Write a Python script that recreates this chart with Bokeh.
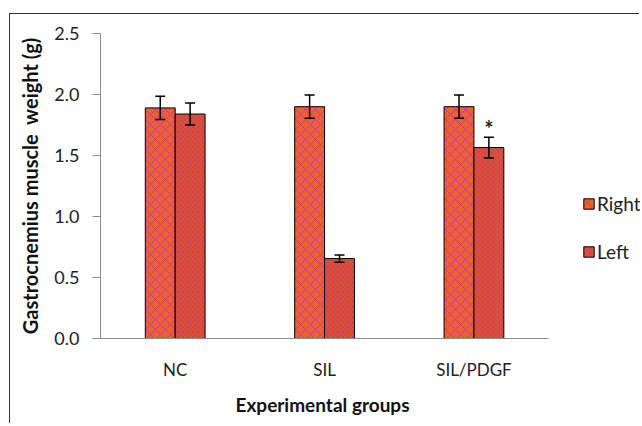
from bokeh.plotting import figure
from bokeh.models import (ColumnDataSource, Whisker, TeeHead, Legend, Title,
                          LegendItem, FixedTicker, NumeralTickFormatter, Range1d)
from bokeh.core.properties import value
from bokeh.embed import file_html
from bokeh.resources import INLINE

groups = ["NC", "SIL", "SIL/PDGF"]
right = [1.89, 1.90, 1.90]
right_err = [0.095, 0.095, 0.095]
left = [1.84, 0.655, 1.565]
left_err = [0.09, 0.03, 0.085]
marks = ["", "", "*"]
yticks = [0.0, 0.5, 1.0, 1.5, 2.0, 2.5]
series = ["Right", "Left"]
x_title = "Experimental groups"
y_title = "Gastrocnemius muscle \u00a0weight (g)"

FONT = "Lato"
BW = 0.2                      # bar width (in category units)
pos = [i + 0.5 for i in range(len(groups))]

src = ColumnDataSource(dict(
    xr=[x - BW / 2 for x in pos],
    xl=[x + BW / 2 for x in pos],
    right=right,
    left=left,
    r_up=[v + e for v, e in zip(right, right_err)],
    r_lo=[v - e for v, e in zip(right, right_err)],
    l_up=[v + e for v, e in zip(left, left_err)],
    l_lo=[v - e for v, e in zip(left, left_err)],
    mark=marks,
    mark_y=[v + e + 0.075 for v, e in zip(left, left_err)],
))

n = len(groups)
p = figure(x_range=Range1d(0, n * 1.205), y_range=Range1d(0, 2.5),
           width=630, height=410, output_backend="svg", toolbar_location=None,
           min_border_left=90, min_border_right=0, min_border_top=19,
           min_border_bottom=86)
p.styles = {"margin-left": "9px", "margin-top": "13px",
            "border-left": "1px solid #333", "border-top": "1px solid #333"}

RC = "#F0602A"
LC = "#E0502E"
HC = "#A8389A"

rr = p.vbar(x="xr", top="right", width=BW, source=src, fill_color=RC,
            line_color="black", line_width=1,
            hatch_pattern="diagonal_cross", hatch_scale=10, hatch_color=HC,
            hatch_weight=1, hatch_alpha=0.7)
lr = p.vbar(x="xl", top="left", width=BW, source=src, fill_color=LC,
            line_color="black", line_width=1,
            hatch_pattern="diagonal_cross", hatch_scale=5, hatch_color=HC,
            hatch_weight=1, hatch_alpha=0.5)

for base, up, lo in [("xr", "r_up", "r_lo"), ("xl", "l_up", "l_lo")]:
    w = Whisker(base=base, upper=up, lower=lo, source=src, level="overlay",
                line_color="black", line_width=1.5,
                upper_head=TeeHead(size=10, line_color="black", line_width=1.5),
                lower_head=TeeHead(size=10, line_color="black", line_width=1.5))
    p.add_layout(w)

p.text(x="xl", y="mark_y", text="mark", source=src,
       text_align="center", text_baseline="middle", text_font=value(FONT),
       text_font_size="22px", text_font_style="bold", text_color="#222")

p.xgrid.visible = False
p.ygrid.visible = False
p.outline_line_color = None

p.yaxis.ticker = FixedTicker(ticks=yticks)
p.yaxis.formatter = NumeralTickFormatter(format="0.0")
p.yaxis.axis_line_color = "#8c8c8c"
p.yaxis.major_tick_line_color = "#8c8c8c"
p.yaxis.major_tick_out = 8
p.yaxis.major_tick_in = 0
p.yaxis.minor_tick_line_color = None
p.yaxis.major_label_standoff = 13
p.yaxis.axis_label = y_title

p.xaxis.ticker = FixedTicker(ticks=pos)
p.xaxis.major_label_overrides = {x: g for x, g in zip(pos, groups)}
p.xaxis.bounds = (0, n)
p.xaxis.axis_line_color = "#8c8c8c"
p.xaxis.major_tick_line_color = None
p.xaxis.major_tick_out = 0
p.xaxis.major_tick_in = 0
p.xaxis.minor_tick_line_color = None
p.xaxis.major_label_standoff = 20

for ax in (p.xaxis, p.yaxis):
    ax.major_label_text_font = FONT
    ax.major_label_text_color = "#222"
    ax.axis_label_text_font = FONT
    ax.axis_label_text_font_style = "bold"
    ax.axis_label_text_color = "#111"
p.yaxis.axis_label_text_font_size = "20px"
p.yaxis.major_label_text_font_size = "18px"
p.xaxis.major_label_text_font_size = "17px"
p.yaxis.axis_label_standoff = 9

# x-axis title, placed under the category span (not the whole frame)
p.add_layout(Title(text=x_title, align="left", offset=135, standoff=16,
                   text_font=FONT, text_font_size="19px", text_font_style="bold",
                   text_color="#111"), "below")

legend = Legend(items=[LegendItem(label=series[0], renderers=[rr]),
                       LegendItem(label=series[1], renderers=[lr])],
                location=(482, 75), orientation="vertical",
                label_text_font=FONT, label_text_font_size="19px",
                label_text_color="#222", glyph_width=13, glyph_height=13,
                label_height=13, spacing=25, padding=0, margin=0,
                label_standoff=2, border_line_color=None,
                background_fill_alpha=0)
p.add_layout(legend, "center")

open("out.html", "w").write(file_html(p, INLINE))
